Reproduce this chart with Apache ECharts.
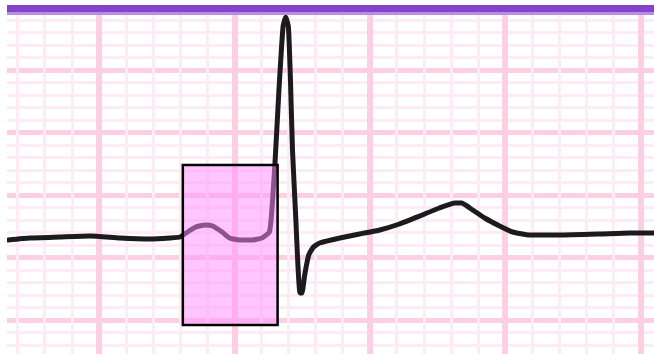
<!DOCTYPE html>
<html>
<head>
<meta charset="utf-8">
<script src="https://cdn.jsdelivr.net/npm/echarts@6/dist/echarts.min.js"></script>
<style>
html,body{margin:0;padding:0;background:#fff;}
#chart{width:654px;height:354px;}
</style>
</head>
<body>
<div id="chart"></div>
<script>
// ECG trace: time (ms) and voltage (mV)
var timeMs = [-134,-102,-58,-13,31,75,105,120,131,143,157,168,182,193,208,226,241,249,252,255,260,266,272,276,280,283,286,291,294,297,300,304,310,317,326,356,385,415,444,474,503,526,536,548,570,592,611,636,680,740,784,819];
var voltMv = [0.14,0.156,0.164,0.172,0.156,0.148,0.156,0.164,0.204,0.244,0.26,0.252,0.204,0.156,0.14,0.14,0.156,0.188,0.204,0.34,0.74,1.34,1.844,1.924,1.844,1.42,0.86,0.30,-0.06,-0.284,-0.284,-0.14,0.02,0.084,0.116,0.156,0.188,0.22,0.268,0.332,0.396,0.436,0.436,0.396,0.316,0.252,0.204,0.18,0.18,0.188,0.196,0.196];
// Highlighted region (P wave): [tStart, tEnd, vLow, vHigh]
var highlight = [[124, 264, -0.54, 0.74]];

var xMin = -200, xMax = 840, yMin = -1.0, yMax = 2.0;
var minorX = 40, majorX = 200, minorY = 0.1, majorY = 0.5;

var trace = timeMs.map(function(t, i){ return [t, voltMv[i]]; });

function gridAxis(interval, color, width, mn, mx){
  return {
    type: 'value', gridIndex: 0, min: mn, max: mx, interval: interval,
    axisLine: {show:false}, axisTick: {show:false}, axisLabel: {show:false},
    splitLine: {show:true, lineStyle: {color: color, width: width}}
  };
}

var chart = echarts.init(document.getElementById('chart'), null, {renderer:'canvas'});
chart.setOption({
  animation: false,
  backgroundColor: '#ffffff',
  grid: [{left: -36.5, width: 704, top: 7.5, height: 375, containLabel: false, outerBoundsMode: 'none'}],
  xAxis: [
    gridAxis(minorX, '#fdecf3', 3, xMin, xMax),
    gridAxis(majorX, '#fcd0e2', 6, xMin, xMax)
  ],
  yAxis: [
    gridAxis(minorY, '#fdecf3', 3, yMin, yMax),
    gridAxis(majorY, '#fcd0e2', 5, yMin, yMax)
  ],
  series: [
    {
      type: 'line', xAxisIndex: 0, yAxisIndex: 0, data: trace,
      showSymbol: false, smooth: 0.15, z: 5, clip: false,
      lineStyle: {color: '#1c1a1c', width: 5, join: 'round', cap: 'round'}
    },
    {
      type: 'custom', xAxisIndex: 0, yAxisIndex: 0, z: 10, data: highlight,
      renderItem: function(params, api){
        var p0 = api.coord([api.value(0), api.value(3)]);
        var p1 = api.coord([api.value(1), api.value(2)]);
        return {
          type: 'rect',
          shape: {x: p0[0], y: p0[1], width: p1[0]-p0[0], height: p1[1]-p0[1]},
          style: {fill: 'rgba(255,140,255,0.5)', stroke: '#000', lineWidth: 2.5}
        };
      }
    }
  ],
  graphic: [
    {type:'rect', left: 0, top: 0, shape:{width:7, height:354}, style:{fill:'#fff'}, z: 100},
    {type:'rect', left: 0, top: 0, shape:{width:654, height:5}, style:{fill:'#fff'}, z: 100},
    {type:'rect', left: 7, top: 5, shape:{width:647, height:7}, style:{fill:'#8444c9'}, z: 101},
    {type:'rect', left: 7, top: 12, shape:{width:647, height:3}, style:{fill:'#b98de3'}, z: 101}
  ]
});
</script>
</body>
</html>
